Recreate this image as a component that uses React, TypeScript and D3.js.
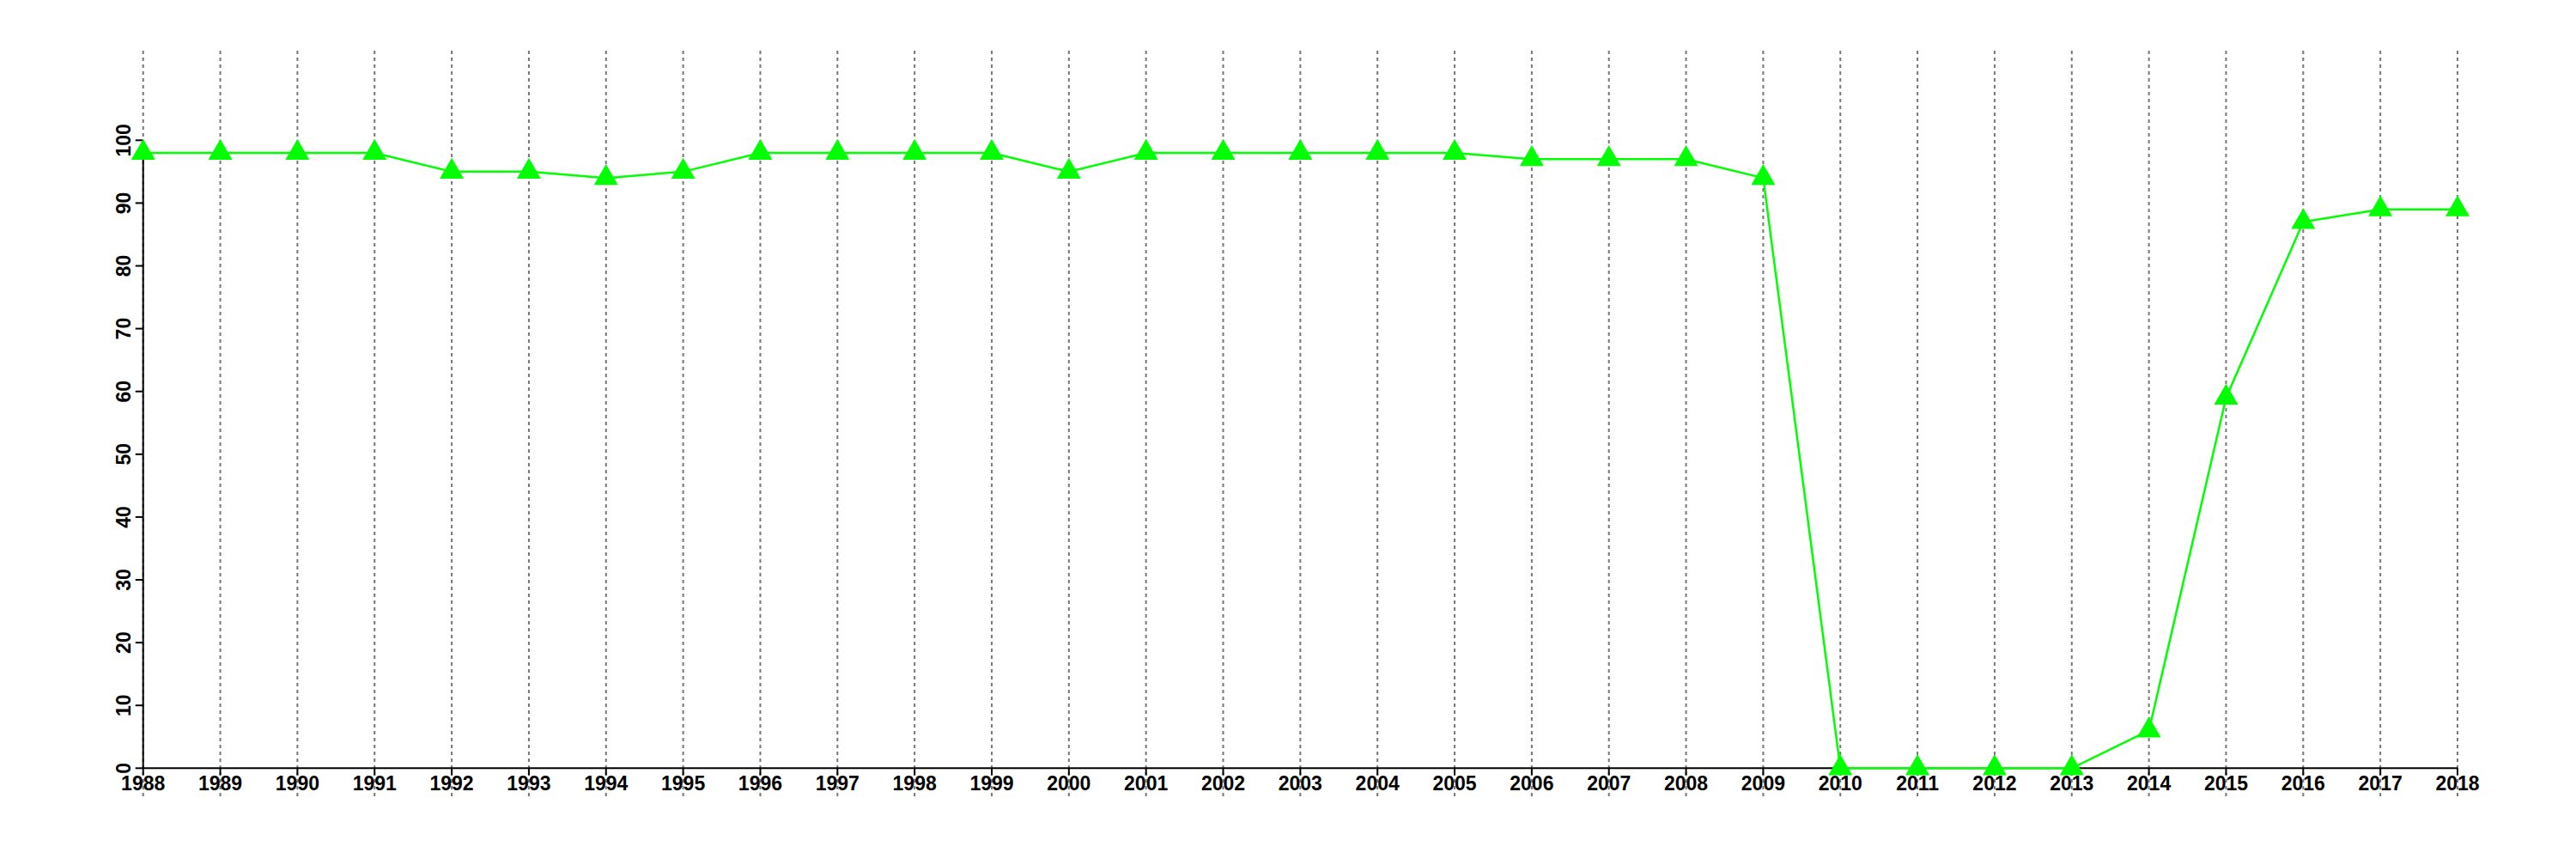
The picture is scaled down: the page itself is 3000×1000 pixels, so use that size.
import React from "react";
import * as d3 from "d3";

const years: number[] = [1988,1989,1990,1991,1992,1993,1994,1995,1996,1997,1998,1999,2000,2001,2002,2003,2004,2005,2006,2007,2008,2009,2010,2011,2012,2013,2014,2015,2016,2017,2018];
const values: number[] = [98,98,98,98,95,95,94,95,98,98,98,98,95,98,98,98,98,98,97,97,97,94,0,0,0,0,6,59,87,89,89];
const yTicks: number[] = [0,10,20,30,40,50,60,70,80,90,100];

export default function App() {
  const W = 3000, H = 1000;
  const x = d3.scaleLinear().domain([1988, 2018]).range([166.7, 2862]);
  const y = d3.scaleLinear().domain([0, 100]).range([894.3, 163.3]);
  const line = d3.line<number>().x((_, i) => x(years[i])).y((d) => y(d));
  const tri = d3.symbol().type(d3.symbolTriangle).size(340)();
  const font = "'Liberation Sans', Arial, Helvetica, sans-serif";
  return (
    <svg width={W} height={H} style={{ position: "absolute", left: 0, top: 0, background: "#fff" }}>
      <rect width={W} height={H} fill="#fff" />
      {years.map((yr) => (
        <line key={"g" + yr} x1={x(yr)} x2={x(yr)} y1={59} y2={927} stroke="#777" strokeWidth={2} strokeDasharray="4,4" />
      ))}
      <line x1={x(1988)} x2={x(2018)} y1={y(0)} y2={y(0)} stroke="#000" strokeWidth={2} />
      <line x1={x(1988)} x2={x(1988)} y1={y(0)} y2={y(100)} stroke="#000" strokeWidth={2} />
      {yTicks.map((t) => (
        <g key={"y" + t}>
          <line x1={x(1988) - 9} x2={x(1988)} y1={y(t)} y2={y(t)} stroke="#000" strokeWidth={2} />
          <text transform={`translate(152,${y(t)}) rotate(-90)`} textAnchor="middle" fontFamily={font} fontWeight="bold" fontSize={23} fill="#000">{t}</text>
        </g>
      ))}
      {years.map((yr) => (
        <g key={"x" + yr}>
          <line x1={x(yr)} x2={x(yr)} y1={y(0)} y2={y(0) + 8} stroke="#000" strokeWidth={2} />
          <text x={x(yr)} y={920} textAnchor="middle" fontFamily={font} fontWeight="bold" fontSize={23} fill="#000">{yr}</text>
        </g>
      ))}
      <path d={line(values) || ""} fill="none" stroke="#00ff00" strokeWidth={2.5} />
      {values.map((v, i) => (
        <path key={"m" + i} d={tri || ""} transform={`translate(${x(years[i])},${y(v)})`} fill="#00ff00" />
      ))}
    </svg>
  );
}
